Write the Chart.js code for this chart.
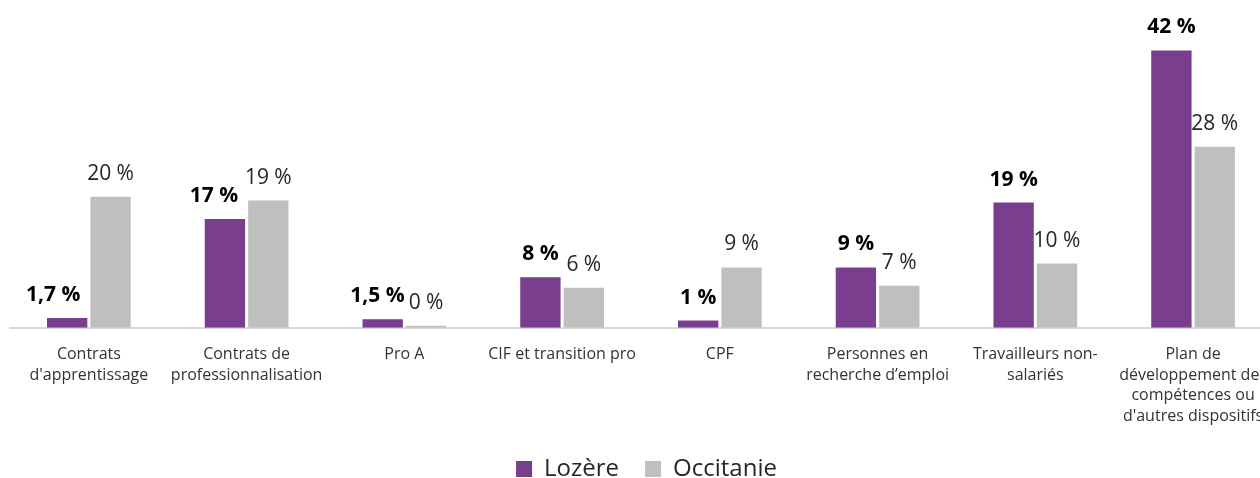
<!DOCTYPE html>
<html>
<head>
<meta charset="utf-8">
<script src="https://cdn.jsdelivr.net/npm/chart.js@4.4.0/dist/chart.umd.min.js"></script>
<style>
  html, body { margin: 0; padding: 0; background: #fff; overflow: hidden; }
  #wrap { width: 1283px; height: 478px; }
</style>
</head>
<body>
<div id="wrap"><canvas id="myChart"></canvas></div>
<script>
'use strict';

var categories = [
  ['Contrats', "d'apprentissage"],
  ['Contrats de', 'professionnalisation'],
  'Pro A',
  'CIF et transition pro',
  'CPF',
  ['Personnes en', 'recherche d’emploi'],
  ['Travailleurs non-', 'salariés'],
  ['Plan de', 'développement des', 'compétences ou', "d'autres dispositifs"]
];
var seriesNames = ['Lozère', 'Occitanie'];
var lozere = [1.5, 16.6, 1.3, 7.7, 1.1, 9.2, 19.1, 42.3];
var occitanie = [20, 19.4, 0.3, 6.1, 9.2, 6.4, 9.8, 27.6];
var lozereLabels = ['1,7 %', '17 %', '1,5 %', '8 %', '1 %', '9 %', '19 %', '42 %'];
var occitanieLabels = ['20 %', '19 %', '0 %', '6 %', '9 %', '7 %', '10 %', '28 %'];

var FONT = "'Open Sans', 'Noto Sans', sans-serif";

// étiquettes de valeurs au-dessus des barres
var valueLabels = {
  id: 'valueLabels',
  afterDatasetsDraw: function(chart) {
    var ctx = chart.ctx;
    var allLabels = [lozereLabels, occitanieLabels];
    var fonts = ['bold 21px ' + FONT, '21px ' + FONT];
    var metaL = chart.getDatasetMeta(0);
    var metaO = chart.getDatasetMeta(1);
    ctx.save();
    ctx.textBaseline = 'middle';
    ctx.textAlign = 'center';
    metaO.data.forEach(function(bar, j) {
      ctx.font = fonts[1];
      ctx.fillStyle = '#262626';
      ctx.fillText(allLabels[1][j], bar.x, bar.y - 23);
    });
    metaL.data.forEach(function(bar, j) {
      ctx.font = fonts[0];
      var w = ctx.measureText(allLabels[0][j]).width;
      var h = 18;
      var x = bar.x;
      var y = bar.y - 23;
      // éviter l'étiquette et la barre de la série voisine
      var ob = metaO.data[j];
      ctx.font = fonts[1];
      var ow = ctx.measureText(allLabels[1][j]).width;
      var oy = ob.y - 23;
      var oLeft = ob.x - ow / 2;
      if (x + w / 2 > oLeft && Math.abs(y - oy) < h) {
        x = oLeft - 4 - w / 2;
      }
      var barLeft = ob.x - ob.width / 2;
      if (x + w / 2 > barLeft && y + h / 2 > ob.y) {
        x = barLeft - 10 - w / 2;
      }
      ctx.font = fonts[0];
      ctx.fillStyle = '#000';
      ctx.fillText(allLabels[0][j], x, y);
    });
    ctx.restore();
  }
};

var ctx = document.getElementById('myChart');

var myChart = new Chart(ctx, {
  type: 'bar',
  data: {
    labels: categories,
    datasets: [{
      label: seriesNames[0],
      data: lozere,
      backgroundColor: '#7a3e8f',
      categoryPercentage: 0.55,
      barPercentage: 0.93
    }, {
      label: seriesNames[1],
      data: occitanie,
      backgroundColor: '#bfbfbf',
      categoryPercentage: 0.55,
      barPercentage: 0.93
    }]
  },
  options: {
    responsive: true,
    maintainAspectRatio: false,
    animation: false,
    layout: { padding: { left: 10, right: 0, top: 0, bottom: -13 } },
    scales: {
      x: {
        grid: { display: false, drawTicks: false },
        border: { display: true, color: '#d9d9d9', width: 2 },
        ticks: {
          color: '#333',
          font: { family: FONT, size: 16, lineHeight: 1.3 },
          padding: 16,
          maxRotation: 0,
          autoSkip: false
        },
        afterFit: function(scale) {
          scale.height -= 12;
        }
      },
      y: {
        display: false,
        min: 0,
        max: 50
      }
    },
    plugins: {
      legend: {
        position: 'bottom',
        labels: {
          color: '#262626',
          font: { family: FONT, size: 24 },
          boxWidth: 16,
          boxHeight: 16,
          padding: 26
        }
      },
      tooltip: { enabled: false }
    }
  },
  plugins: [valueLabels]
});
</script>
</body>
</html>
